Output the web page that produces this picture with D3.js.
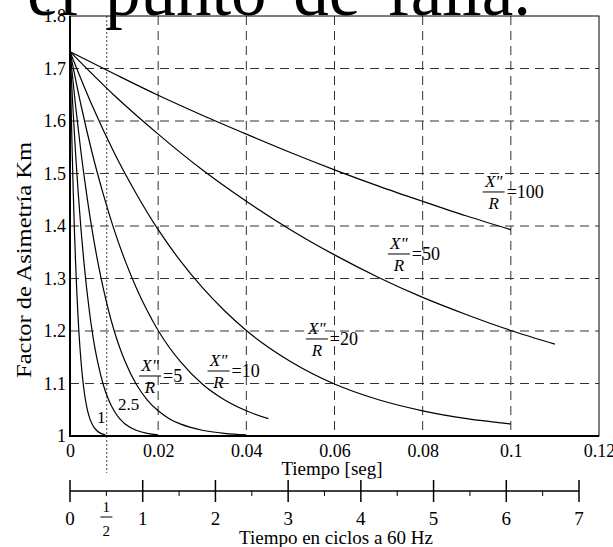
<!DOCTYPE html>
<html>
<head>
<meta charset="utf-8">
<title>Factor de Asimetría Km</title>
<style>
  body { margin: 0; background: white; overflow: hidden; }
  svg text { font-family: "Liberation Serif", "Times New Roman", serif; fill: black; }
</style>
<script src="https://d3js.org/d3.v7.min.js"></script>
</head>
<body>
<svg id="chart" width="613" height="547"></svg>
<script>
// Km vs tiempo [seg] for each X"/R
const curve100 = [[0,1.732],[0.01,1.690],[0.02,1.649],[0.03,1.611],[0.04,1.575],[0.05,1.540],[0.06,1.507],[0.07,1.476],[0.08,1.447],[0.09,1.419],[0.1,1.393]];
const curve50 = [[0,1.732],[0.01,1.649],[0.02,1.575],[0.03,1.507],[0.04,1.447],[0.05,1.393],[0.06,1.345],[0.07,1.302],[0.08,1.264],[0.09,1.231],[0.1,1.201],[0.11,1.175]];
const curve20 = [[0,1.732],[0.005,1.630],[0.01,1.540],[0.015,1.462],[0.02,1.393],[0.025,1.334],[0.03,1.283],[0.035,1.239],[0.04,1.201],[0.045,1.169],[0.05,1.142],[0.06,1.099],[0.07,1.069],[0.08,1.048],[0.09,1.033],[0.1,1.023]];
const curve10 = [[0,1.732],[0.0025,1.630],[0.005,1.540],[0.0075,1.462],[0.01,1.393],[0.0125,1.334],[0.015,1.283],[0.0175,1.239],[0.02,1.201],[0.0225,1.169],[0.025,1.142],[0.03,1.099],[0.035,1.069],[0.04,1.048],[0.045,1.033]];
const curve5 = [[0,1.732],[0.00125,1.630],[0.0025,1.540],[0.00375,1.462],[0.005,1.393],[0.00625,1.334],[0.0075,1.283],[0.00875,1.239],[0.01,1.201],[0.01125,1.169],[0.0125,1.142],[0.015,1.099],[0.0175,1.069],[0.02,1.048],[0.0225,1.033],[0.025,1.023],[0.03,1.011],[0.035,1.005],[0.04,1.002]];
const curve2_5 = [[0,1.732],[0.000625,1.630],[0.00125,1.540],[0.001875,1.462],[0.0025,1.393],[0.003125,1.334],[0.00375,1.283],[0.004375,1.239],[0.005,1.201],[0.005625,1.169],[0.00625,1.142],[0.0075,1.099],[0.00875,1.069],[0.01,1.048],[0.01125,1.033],[0.0125,1.023],[0.015,1.011],[0.0175,1.005],[0.02,1.002]];
const curve1 = [[0,1.732],[0.00025,1.630],[0.0005,1.540],[0.00075,1.462],[0.001,1.393],[0.00125,1.334],[0.0015,1.283],[0.00175,1.239],[0.002,1.201],[0.00225,1.169],[0.0025,1.142],[0.003,1.099],[0.0035,1.069],[0.004,1.048],[0.0045,1.033],[0.005,1.023],[0.006,1.011],[0.007,1.005],[0.008,1.002]];

const xTicks = [0, 0.02, 0.04, 0.06, 0.08, 0.1, 0.12];
const yTicks = [1, 1.1, 1.2, 1.3, 1.4, 1.5, 1.6, 1.7, 1.8];
const cycleTicks = [0, 1, 2, 3, 4, 5, 6, 7];
const halfCycleTicks = [0.5, 1.5, 2.5, 3.5, 4.5, 5.5, 6.5];
const halfCycleTime = 1 / 120;   // medio ciclo a 60 Hz

const serif = '"Liberation Serif", "Times New Roman", serif';
const svg = d3.select("#chart");

// big heading cut off at the top of the page
svg.append("text")
  .attr("x", 531).attr("y", 15)
  .attr("text-anchor", "end")
  .style("font-size", "71px")
  .style("word-spacing", "9px")
  .text("Por el punto de falla.");

const x = d3.scaleLinear().domain([0, 0.12]).range([70, 599]);
const y = d3.scaleLinear().domain([1, 1.8]).range([436, 16]);
const xc = d3.scaleLinear().domain([0, 7]).range([70, 579]);

// grid
const grid = svg.append("g")
  .attr("stroke", "#333")
  .attr("stroke-width", 1)
  .attr("stroke-dasharray", "9,6");

grid.selectAll(".h").data(yTicks.slice(1, -1)).enter().append("line")
  .attr("x1", x(0)).attr("x2", x(0.12))
  .attr("y1", d => y(d)).attr("y2", d => y(d));

grid.selectAll(".v").data(xTicks.slice(1, -1)).enter().append("line")
  .attr("x1", d => x(d)).attr("x2", d => x(d))
  .attr("y1", y(1.8)).attr("y2", y(1));

// dotted line at half a cycle
svg.append("line")
  .attr("x1", x(halfCycleTime)).attr("x2", x(halfCycleTime))
  .attr("y1", y(1.8)).attr("y2", 473)
  .attr("stroke", "#444")
  .attr("stroke-width", 1)
  .attr("stroke-dasharray", "2,2");

// curves
const line = d3.line()
  .x(d => x(d[0]))
  .y(d => y(d[1]))
  .curve(d3.curveMonotoneX);

svg.append("g").selectAll("path")
  .data([curve100, curve50, curve20, curve10, curve5, curve2_5, curve1])
  .enter().append("path")
  .attr("d", line)
  .attr("fill", "none")
  .attr("stroke", "black")
  .attr("stroke-width", 1.2);

// frame
svg.append("rect")
  .attr("x", x(0)).attr("y", y(1.8))
  .attr("width", x(0.12) - x(0)).attr("height", y(1) - y(1.8))
  .attr("fill", "none").attr("stroke", "black").attr("stroke-width", 1);
svg.append("line")
  .attr("x1", x(0)).attr("x2", x(0)).attr("y1", y(1.8)).attr("y2", y(1) + 1)
  .attr("stroke", "black").attr("stroke-width", 2);
svg.append("line")
  .attr("x1", x(0) - 1).attr("x2", x(0.12)).attr("y1", y(1)).attr("y2", y(1))
  .attr("stroke", "black").attr("stroke-width", 2);

// tick labels
const yAxis = svg.append("g")
  .attr("transform", `translate(${x(0)},0)`)
  .call(d3.axisLeft(y).tickValues(yTicks).tickSize(0).tickPadding(4)
    .tickFormat(d => d === 1 ? "1" : d3.format(".1f")(d)));
yAxis.attr("font-family", serif).attr("font-size", 18);
yAxis.select(".domain").remove();
yAxis.selectAll("text").style("font-family", serif).style("font-size", "18px");

const xAxis = svg.append("g")
  .attr("transform", `translate(0,${y(1)})`)
  .call(d3.axisBottom(x).tickValues(xTicks).tickSize(0).tickPadding(8)
    .tickFormat(d3.format("~g")));
xAxis.attr("font-family", serif).attr("font-size", 18);
xAxis.select(".domain").remove();
xAxis.selectAll("text").style("font-family", serif).style("font-size", "18px");

// axis titles
svg.append("text")
  .attr("transform", "translate(31,260) rotate(-90)")
  .attr("text-anchor", "middle")
  .attr("textLength", 236)
  .attr("lengthAdjust", "spacingAndGlyphs")
  .style("font-size", "20px")
  .text("Factor de Asimetría Km");

svg.append("text")
  .attr("x", 332).attr("y", 475)
  .attr("text-anchor", "middle")
  .style("font-size", "19px")
  .text("Tiempo [seg]");

// second axis: ciclos a 60 Hz
const axisY = 491;
const cyc = svg.append("g").attr("stroke", "black");
cyc.append("line")
  .attr("x1", xc(0)).attr("x2", xc(7))
  .attr("y1", axisY).attr("y2", axisY)
  .attr("stroke-width", 1.5);
cyc.selectAll(".major").data(cycleTicks).enter().append("line")
  .attr("x1", d => xc(d)).attr("x2", d => xc(d))
  .attr("y1", axisY - 11).attr("y2", axisY + 11)
  .attr("stroke-width", 1.5);
cyc.selectAll(".minor").data(halfCycleTicks).enter().append("line")
  .attr("x1", d => xc(d)).attr("x2", d => xc(d))
  .attr("y1", axisY).attr("y2", axisY + 5)
  .attr("stroke-width", 1);

svg.append("g").selectAll("text")
  .data(cycleTicks).enter().append("text")
  .attr("x", d => xc(d)).attr("y", 525)
  .attr("text-anchor", "middle")
  .style("font-size", "19px")
  .text(d => d);

// the 1/2 label
const half = svg.append("g").attr("transform", `translate(${xc(0.5)},0)`);
half.append("text").attr("y", 512).attr("text-anchor", "middle").style("font-size", "15px").text("1");
half.append("line").attr("x1", -6).attr("x2", 6).attr("y1", 517).attr("y2", 517)
  .attr("stroke", "black").attr("stroke-width", 1);
half.append("text").attr("y", 536).attr("text-anchor", "middle").style("font-size", "15px").text("2");

svg.append("text")
  .attr("x", 336).attr("y", 544)
  .attr("text-anchor", "middle")
  .style("font-size", "19px")
  .text("Tiempo en ciclos a 60 Hz");

// X"/R labels, anchored at the fraction bar
const ratioLabels = [
  { text: "100", t: 0.0961, k: 1.4648 },
  { text: "50", t: 0.0746, k: 1.3467 },
  { text: "20", t: 0.0560, k: 1.1848 },
  { text: "10", t: 0.0337, k: 1.1238 },
  { text: "5", t: 0.01815, k: 1.1143 }
];
ratioLabels.forEach(l => {
  const g = svg.append("g").attr("transform", `translate(${x(l.t)},${y(l.k)})`);
  g.append("text").attr("y", -5).attr("text-anchor", "middle")
    .style("font-size", "17px").style("font-style", "italic").text('X"');
  g.append("line").attr("x1", -11).attr("x2", 11).attr("y1", 0).attr("y2", 0)
    .attr("stroke", "black").attr("stroke-width", 1);
  g.append("text").attr("y", 17).attr("text-anchor", "middle")
    .style("font-size", "17px").style("font-style", "italic").text("R");
  g.append("text").attr("x", 13).attr("y", 6)
    .style("font-size", "18px").text("=" + l.text);
});

svg.append("text").attr("x", x(0.01089)).attr("y", y(1.0495))
  .style("font-size", "17px").text("2.5");
svg.append("text").attr("x", x(0.00612)).attr("y", y(1.0248))
  .style("font-size", "17px").text("1");
</script>
</body>
</html>
